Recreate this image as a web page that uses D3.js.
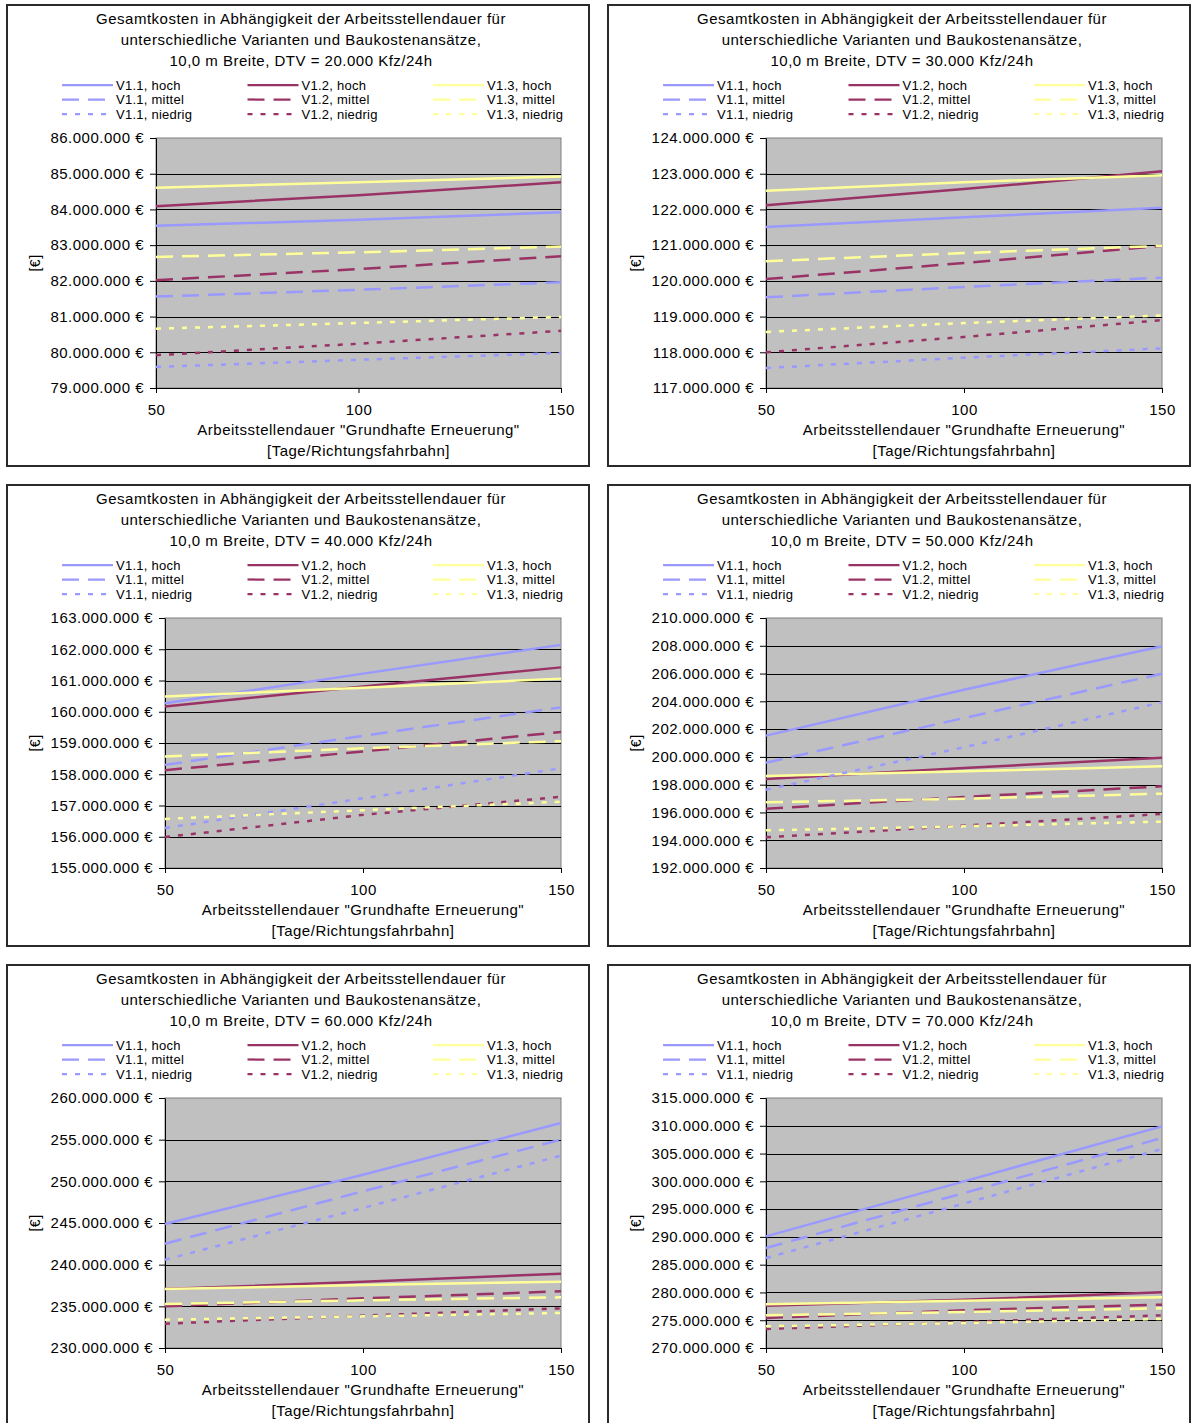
<!DOCTYPE html>
<html>
<head>
<meta charset="utf-8">
<script src="https://cdn.jsdelivr.net/npm/d3@7"></script>
<style>
	body { margin: 0; background: #fff; }
	svg { display: block; font-family: "Liberation Sans", Arial, sans-serif; letter-spacing: 0.5px; }
</style>
</head>
<body>
<svg id="chart" width="1192" height="1423"></svg>
<script>
var tage = [50, 100, 150],
	dtv = ["20.000", "30.000", "40.000", "50.000", "60.000", "70.000"],
	varianten = ["V1.1", "V1.2", "V1.3"],
	ansaetze = ["hoch", "mittel", "niedrig"],
	yMin = [79, 117, 155, 192, 230, 270],
	yMax = [86, 124, 163, 210, 260, 315],
	yStep = [1, 1, 1, 2, 5, 5];

// Gesamtkosten in Mio. €, Reihenfolge: hoch V1.1..V1.3, mittel V1.1..V1.3, niedrig V1.1..V1.3
var kosten20 = [
	[83.54, 83.71, 83.92], [84.09, 84.40, 84.76], [84.61, 84.76, 84.92],
	[81.56, 81.75, 81.96], [82.02, 82.33, 82.69], [82.67, 82.80, 82.96],
	[79.59, 79.79, 79.98], [79.92, 80.24, 80.60], [80.66, 80.82, 80.99]
];
var kosten30 = [
	[121.51, 121.78, 122.05], [122.12, 122.57, 123.07], [122.52, 122.76, 122.96],
	[119.54, 119.83, 120.09], [120.05, 120.50, 120.98], [120.55, 120.78, 120.98],
	[117.56, 117.85, 118.11], [118.00, 118.43, 118.90], [118.57, 118.82, 119.03]
];
var kosten40 = [
	[160.27, 161.22, 162.14], [160.17, 160.81, 161.42], [160.49, 160.77, 161.06],
	[158.30, 159.23, 160.14], [158.13, 158.73, 159.35], [158.57, 158.83, 159.06],
	[156.28, 157.23, 158.19], [155.99, 156.70, 157.28], [156.57, 156.85, 157.12]
];
var kosten50 = [
	[201.53, 204.84, 207.96], [198.41, 199.20, 199.94], [198.62, 198.96, 199.32],
	[199.58, 202.80, 205.99], [196.27, 197.11, 197.88], [196.73, 196.99, 197.35],
	[197.64, 200.69, 203.93], [194.21, 195.05, 195.89], [194.71, 195.00, 195.34]
];
var kosten60 = [
	[244.88, 250.80, 257.00], [237.08, 237.96, 238.92], [237.08, 237.56, 237.96],
	[242.52, 248.80, 255.00], [235.00, 235.96, 236.80], [235.28, 235.72, 236.08],
	[240.60, 246.80, 253.08], [232.92, 233.88, 234.76], [233.40, 233.80, 234.20]
];
var kosten70 = [
	[290.10, 300.00, 309.90], [277.62, 278.70, 280.02], [277.86, 278.52, 279.12],
	[288.00, 297.90, 307.80], [275.40, 276.78, 277.80], [275.88, 276.48, 277.14],
	[286.20, 296.00, 305.82], [273.42, 274.68, 275.88], [273.90, 274.50, 275.22]
];
var kosten = [kosten20, kosten30, kosten40, kosten50, kosten60, kosten70];

var farben = {"V1.1": "#9999FF", "V1.2": "#993366", "V1.3": "#FFFF99"},
	striche = {"hoch": null, "mittel": "17,9", "niedrig": "5,8"};

var de = d3.formatLocale({decimal: ",", thousands: ".", grouping: [3], currency: ["", " €"]}),
	fmt = de.format(",.0f");

var pw = 582, ph = 461,
	svg = d3.select("#chart");

svg.append("rect").attr("width", 1192).attr("height", 1423).attr("fill", "#fff");

dtv.forEach(function(d, i) {
	var px = [7, 608][i % 2],
		py = 5 + Math.floor(i / 2) * 480,
		g = svg.append("g").attr("transform", "translate(" + px + "," + py + ")");

	g.append("rect")
		.attr("width", pw).attr("height", ph)
		.attr("fill", "#fff").attr("stroke", "#2a2a2a").attr("stroke-width", 2);

	// title
	var titel = ["Gesamtkosten in Abhängigkeit der Arbeitsstellendauer für",
		"unterschiedliche Varianten und Baukostenansätze,",
		"10,0 m Breite, DTV = " + d + " Kfz/24h"];
	g.selectAll("text.titel").data(titel).enter().append("text")
		.attr("class", "titel")
		.attr("x", 294).attr("y", function(t, k) { return 14 + k * 21; })
		.attr("dy", "0.35em")
		.attr("text-anchor", "middle")
		.style("font-size", "15px")
		.text(function(t) { return t; });

	// legend
	var reihen = [];
	ansaetze.forEach(function(a) {
		varianten.forEach(function(v) { reihen.push({v: v, a: a}); });
	});
	var leg = g.selectAll("g.leg").data(reihen).enter().append("g")
		.attr("class", "leg")
		.attr("transform", function(r, k) {
			return "translate(" + (55 + (k % 3) * 185.5) + "," + (80 + Math.floor(k / 3) * 14.5) + ")";
		});
	leg.append("line")
		.attr("x1", 0).attr("x2", 51)
		.attr("stroke", function(r) { return farben[r.v]; })
		.attr("stroke-width", 2.25)
		.attr("stroke-dasharray", function(r) { return striche[r.a]; });
	leg.append("text")
		.attr("x", 54).attr("dy", "0.35em")
		.style("font-size", "13px").style("letter-spacing", "0.25px")
		.text(function(r) { return r.v + ", " + r.a; });

	// scales
	var top = 133, bottom = 383, right = 554;
	var y = d3.scaleLinear().domain([yMin[i], yMax[i]]).range([bottom, top]);
	var ticks = d3.range(yMin[i], yMax[i] + yStep[i] / 2, yStep[i]);
	var yAxis = d3.axisLeft(y).tickValues(ticks).tickSize(6).tickSizeOuter(0).tickPadding(6)
		.tickFormat(function(t) { return fmt(t * 1e6) + " €"; });

	var ya = g.append("g").call(yAxis);
	ya.selectAll("text").style("font-size", "15px").attr("fill", "#000");
	var left = Math.round(43 + ya.node().getBBox().width);
	ya.attr("transform", "translate(" + left + ",0)");

	var x = d3.scaleLinear().domain([50, 150]).range([left, right]);

	// plot area
	g.insert("rect", "g")
		.attr("x", left).attr("y", top)
		.attr("width", right - left).attr("height", bottom - top)
		.attr("fill", "#C0C0C0").attr("stroke", "#808080").attr("stroke-width", 1);

	g.append("g").selectAll("line").data(ticks.slice(1, -1)).enter().append("line")
		.attr("x1", left).attr("x2", right)
		.attr("y1", function(t) { return Math.round(y(t)) + 0.5; })
		.attr("y2", function(t) { return Math.round(y(t)) + 0.5; })
		.attr("stroke", "#000").attr("stroke-width", 1);

	ya.raise();
	ya.select(".domain").attr("stroke", "#000");
	ya.selectAll(".tick line").attr("stroke", "#000");

	var xa = g.append("g")
		.attr("transform", "translate(0," + bottom + ")")
		.call(d3.axisBottom(x).tickValues(tage).tickSize(5).tickSizeOuter(0).tickPadding(11)
			.tickFormat(d3.format("d")));
	xa.selectAll("text").style("font-size", "15px").attr("fill", "#000");
	xa.select(".domain").attr("stroke", "#000");

	// lines
	var linie = d3.line()
		.x(function(p, k) { return x(tage[k]); })
		.y(function(p) { return y(p); });

	g.append("g").selectAll("path").data(kosten[i]).enter().append("path")
		.attr("d", linie)
		.attr("fill", "none")
		.attr("stroke", function(s, k) { return farben[reihen[k].v]; })
		.attr("stroke-width", 2.5)
		.attr("stroke-dasharray", function(s, k) { return striche[reihen[k].a]; });

	// axis titles
	var mitte = (left + right) / 2;
	g.append("text")
		.attr("x", mitte).attr("y", 425).attr("dy", "0.35em")
		.attr("text-anchor", "middle").style("font-size", "15px")
		.text("Arbeitsstellendauer \"Grundhafte Erneuerung\"");
	g.append("text")
		.attr("x", mitte).attr("y", 446).attr("dy", "0.35em")
		.attr("text-anchor", "middle").style("font-size", "15px")
		.text("[Tage/Richtungsfahrbahn]");
	g.append("text")
		.attr("transform", "translate(28," + ((top + bottom) / 2) + ") rotate(-90)")
		.attr("dy", "0.35em")
		.attr("text-anchor", "middle").style("font-size", "14px")
		.text("[€]");
});
</script>
</body>
</html>
